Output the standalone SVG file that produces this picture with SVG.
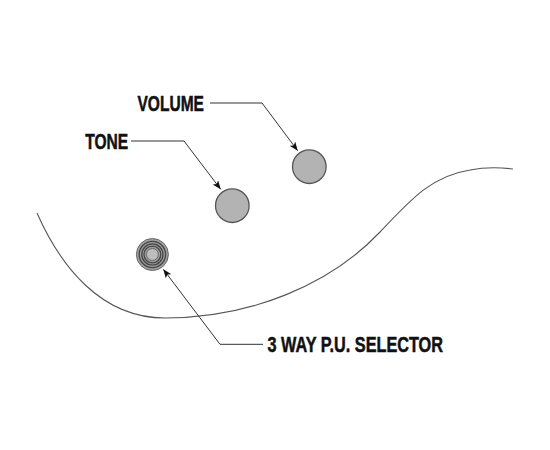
<svg xmlns="http://www.w3.org/2000/svg" width="550" height="450" viewBox="0 0 550 450">
<defs>
<marker id="arr" viewBox="0 0 10 8" refX="10" refY="4" markerWidth="9" markerHeight="7" markerUnits="userSpaceOnUse" orient="auto">
<path d="M0,0 L10,4 L0,8 L2.5,4 Z" fill="#111"/>
</marker>
<style>
.lbl{font-family:"Liberation Sans",Arial,sans-serif;font-weight:bold;font-size:21.5px;fill:#111;stroke:#111;stroke-width:0.5}
.lead{fill:none;stroke:#333;stroke-width:1}
.knob{fill:#b3b3b3;stroke:#555;stroke-width:1.3}
.ring{fill:none;stroke:#444;stroke-width:1.3}
</style>
</defs>
<rect width="550" height="450" fill="#fff"/>
<path id="body" d="M37,213 C60,265 100,318 165,318 C250,318 330,285 380,232 C412,198 432,176 470,170 C490,166 505,168 513,169" fill="none" stroke="#555" stroke-width="1.1"/>
<g id="volume">
<circle class="knob" cx="309.3" cy="166.7" r="16.8"/>
<text class="lbl" x="137.5" y="111.2" textLength="66.5" lengthAdjust="spacingAndGlyphs">VOLUME</text>
</g>
<g id="tone">
<circle class="knob" cx="232.3" cy="205.7" r="16.8"/>
<text class="lbl" x="85.2" y="148.5" textLength="43" lengthAdjust="spacingAndGlyphs">TONE</text>
</g>
<g id="selector">
<circle cx="152.4" cy="254.5" r="16" fill="#a0a0a0" stroke="#666" stroke-width="1"/>
<circle class="ring" cx="152.4" cy="254.5" r="13.2"/>
<circle class="ring" cx="152.4" cy="254.5" r="10.6"/>
<circle class="ring" cx="152.4" cy="254.5" r="8.4"/>
<circle cx="152.4" cy="254.5" r="6" fill="#bdbdbd" stroke="#666" stroke-width="1"/>
<text class="lbl" x="267.5" y="351.7" textLength="175.5" lengthAdjust="spacingAndGlyphs">3 WAY P.U. SELECTOR</text>
</g>
<g id="connectors">
<path class="lead" d="M210,103 H262 L297.7,150.7" marker-end="url(#arr)"/>
<path class="lead" d="M131,141 H184 L220.7,189.3" marker-end="url(#arr)"/>
<path class="lead" d="M263,344.3 H220 L163.3,269.3" marker-end="url(#arr)"/>
</g>
</svg>
